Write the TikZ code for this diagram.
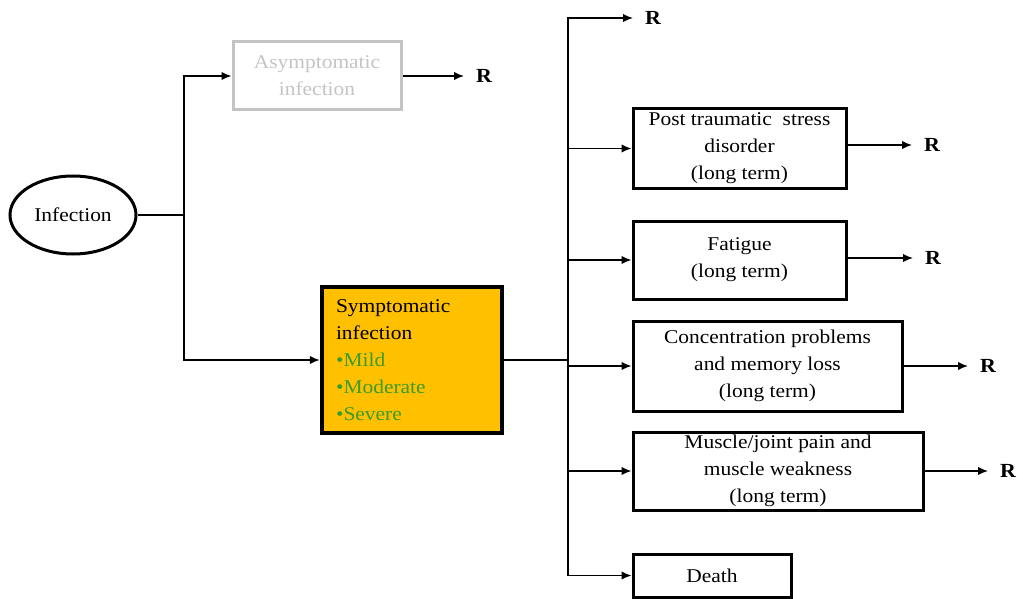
\documentclass[tikz,border=0pt]{standalone}
\usepackage{fontspec}
\setmainfont[FakeStretch=1.1]{Liberation Serif}
\usetikzlibrary{arrows.meta,shapes.geometric}
\definecolor{gold}{RGB}{255,192,0}
\definecolor{leaf}{RGB}{60,156,44}
\definecolor{faded}{RGB}{196,196,196}
\begin{document}
\begin{tikzpicture}[x=1pt,y=-1pt,
  every node/.style={font=\fontsize{19.5}{27}\selectfont},
  box/.style={draw=black,line width=3pt,rectangle,align=center,inner sep=0pt},
  rlabel/.style={font=\fontsize{20}{22}\selectfont\bfseries,inner xsep=12pt,inner ysep=0pt,anchor=west},
  link/.style={line width=1.4pt},
  arr/.style={link,-{Latex[length=10pt,width=8.5pt]}}]
\useasboundingbox (0,0) rectangle (1023,599);

% source and first split
\node[draw,ellipse,line width=3pt,minimum width=126pt,minimum height=78pt,inner sep=0pt] (inf) at (73,215) {Infection};
\node[box,draw=faded,text=faded,minimum width=168pt,minimum height=68pt] (asym) at (317,76) {Asymptomatic\\infection};
\node[box,fill=gold,line width=4.5pt,minimum width=180pt,minimum height=146pt,align=left,text width=152pt] (symp) at (412,360)
  {Symptomatic\\infection\\\textcolor{leaf}{\textbullet Mild}\\\textcolor{leaf}{\textbullet Moderate}\\\textcolor{leaf}{\textbullet Severe}};

% long term outcomes
\node[box,minimum width=213pt,minimum height=79pt] (ptsd) at (739.5,148.5) {Post traumatic\ \ stress\\disorder\\(long term)};
\node[box,minimum width=213pt,minimum height=78pt] (fat) at (739.5,260) {Fatigue\\(long term)};
\node[box,minimum width=269pt,minimum height=90pt] (conc) at (767.5,366) {Concentration problems\\and memory loss\\(long term)};
\node[box,minimum width=290pt,minimum height=78pt] (musc) at (778,471) {Muscle/joint pain and\\muscle weakness\\(long term)};
\node[box,minimum width=158pt,minimum height=43pt] (death) at (712,575.5) {Death};

% recovery labels
\node[rlabel] (r0) at (464,76) {R};
\node[rlabel] (r1) at (633,18) {R};
\node[rlabel] (r2) at (912,145) {R};
\node[rlabel] (r3) at (913,258) {R};
\node[rlabel] (r4) at (968,366) {R};
\node[rlabel] (r5) at (988,471) {R};

% junctions
\coordinate (split) at (184,215);
\coordinate (trunk) at (568,360);

\draw[link] (inf) -- (split);
\draw[arr] (split) |- (asym);
\draw[arr] (split) |- (symp);
\draw[arr] (asym) -- (r0);

\draw[link] (symp) -- (trunk);
\draw[arr] (trunk) |- (r1);
\draw[arr] (trunk) |- (ptsd);
\draw[arr] (trunk) |- (fat);
\draw[arr] (trunk) |- (conc);
\draw[arr] (trunk) |- (musc);
\draw[arr] (trunk) |- (death);

\draw[arr] (ptsd.east |- r2) -- (r2);
\draw[arr] (fat.east |- r3) -- (r3);
\draw[arr] (conc) -- (r4);
\draw[arr] (musc) -- (r5);
\end{tikzpicture}
\end{document}
